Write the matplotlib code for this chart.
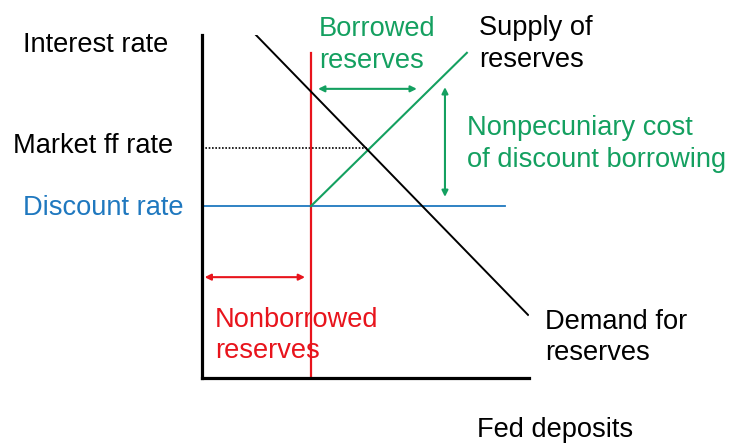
import matplotlib
matplotlib.use("Agg")
import matplotlib.pyplot as plt

plt.rcParams['font.family'] = ['Liberation Sans', 'DejaVu Sans']

# --- diagram values (quantity on x, interest rate on y, arbitrary units 0..10) ---
nonborrowed = 3.33                 # vertical supply part (nonborrowed reserves)
discount_rate = 5.01
ff_rate = 6.71
ff_quantity = 5.05                 # where demand meets supply
demand_x = [1.65, 9.97]
demand_y = [10.0, 1.84]
supply_x = [nonborrowed, 8.10]
supply_y = [discount_rate, 9.48]
supply_top = 9.48
discount_end = 9.27
borrowed_arrow_x = [3.55, 6.57]
borrowed_arrow_y = 8.43
cost_arrow_x = 7.43
cost_arrow_y = [8.48, 5.28]
nonborrowed_arrow_x = [0.08, 3.15]
nonborrowed_arrow_y = 2.94

GREEN = '#14a060'
BLUE = '#1f78bf'
RED = '#e8141c'
fs = 19.6

fig = plt.figure(figsize=(7.31, 4.45), dpi=100)
ax = fig.add_axes([202/731, 67/445, 327/731, 343/445])
ax.set_xlim(0, 10)
ax.set_ylim(0, 10)
for s in ['top', 'right']:
    ax.spines[s].set_visible(False)
for s in ['left', 'bottom']:
    ax.spines[s].set_linewidth(2.3)
ax.set_xticks([])
ax.set_yticks([])

ax.plot([0, discount_end], [discount_rate, discount_rate], color=BLUE, lw=1.3)
ax.plot([0, ff_quantity], [ff_rate, ff_rate], color='black', lw=1.2, ls=(0, (1, 1)))
ax.plot([nonborrowed, nonborrowed], [0, supply_top], color=RED, lw=1.6)
ax.plot(supply_x, supply_y, color=GREEN, lw=1.5)
ax.plot(demand_x, demand_y, color='black', lw=1.4)

arrow = dict(arrowstyle='<|-|>', lw=1.5, mutation_scale=9, shrinkA=0, shrinkB=0)
ax.annotate('', xy=(borrowed_arrow_x[0], borrowed_arrow_y),
            xytext=(borrowed_arrow_x[1], borrowed_arrow_y),
            arrowprops=dict(arrow, color=GREEN))
ax.annotate('', xy=(cost_arrow_x, cost_arrow_y[0]),
            xytext=(cost_arrow_x, cost_arrow_y[1]),
            arrowprops=dict(arrow, color=GREEN))
ax.annotate('', xy=(nonborrowed_arrow_x[0], nonborrowed_arrow_y),
            xytext=(nonborrowed_arrow_x[1], nonborrowed_arrow_y),
            arrowprops=dict(arrow, color=RED))

# multi-line labels are anchored on the baseline of their last line
kw = dict(fontsize=fs, va='baseline', ha='left', clip_on=False, linespacing=1.28)
ax.text(-5.48, 9.51, 'Interest rate', color='black', **kw)
ax.text(-5.79, 6.56, 'Market ff rate', color='black', **kw)
ax.text(-5.47, 4.75, 'Discount rate', color=BLUE, **kw)
ax.text(3.58, 9.04, 'Borrowed\nreserves', color=GREEN, **kw)
ax.text(8.47, 9.07, 'Supply of\nreserves', color='black', **kw)
ax.text(8.10, 6.15, 'Nonpecuniary cost\nof discount borrowing', color=GREEN, **kw)
ax.text(0.40, 0.58, 'Nonborrowed\nreserves', color=RED, **kw)
ax.text(10.49, 0.52, 'Demand for\nreserves', color='black', **kw)
ax.text(8.41, -1.72, 'Fed deposits', color='black', **kw)

fig.savefig('out.png', dpi=100)
